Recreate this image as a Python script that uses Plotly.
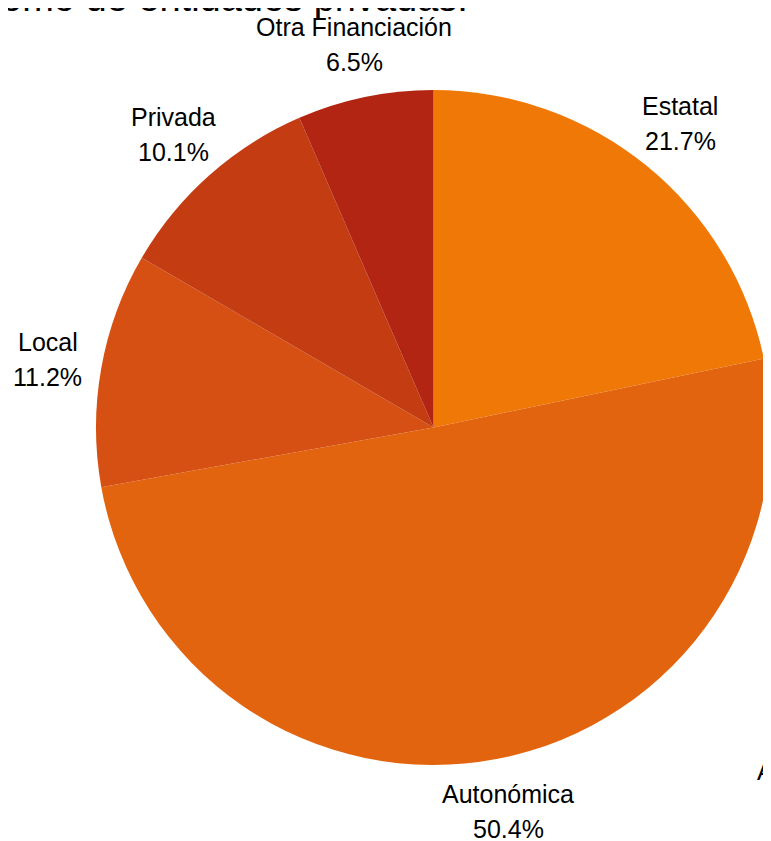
import math
import plotly.graph_objects as go

labels = ["Estatal", "Autonómica", "Local", "Privada", "Otra Financiación"]
values = [21.7, 50.4, 11.2, 10.1, 6.5]
colors = ["#F07806", "#E3640E", "#D55012", "#C43C12", "#B22513"]
title_text = "como de entidades privadas."
side_text = "A"

FONT = "Liberation Sans, Arial, sans-serif"

fig = go.Figure(go.Pie(
    labels=labels,
    values=values,
    sort=False,
    direction="clockwise",
    rotation=0,
    marker=dict(colors=colors, line=dict(width=0)),
    textinfo="none",
    showlegend=False,
    hovertemplate="%{label}: %{value:.1f}%<extra></extra>",
    domain=dict(x=[0, 1], y=[0, 1]),
    automargin=False,
))

# Labels centred on a circle outside the pie, along each slice's mid-angle
total = sum(values)
label_r = 0.58  # in paper units (pie radius = 0.5)
half_gap = 17.5  # px between the centre of the name line and the percent line
cum = 0.0
for lab, v in zip(labels, values):
    mid = (cum + v / 2) / total * 2 * math.pi
    cum += v
    cx = 0.5 + label_r * math.sin(mid)
    cy = 0.5 + label_r * math.cos(mid)
    for txt, shift in ((lab, half_gap), (f"{v:.1f}%", -half_gap)):
        fig.add_annotation(
            text=txt,
            xref="paper", yref="paper",
            x=cx, y=cy, yshift=shift,
            xanchor="center", yanchor="middle",
            showarrow=False,
            font=dict(family=FONT, size=25, color="#000000"),
        )

fig.add_annotation(
    text=title_text, xref="paper", yref="paper",
    x=(462 - 87.5) / 676, y=1.1368, xanchor="right", yanchor="middle",
    showarrow=False,
    font=dict(family=FONT, size=38, color="#000000"),
)
fig.add_annotation(
    text=side_text, xref="paper", yref="paper",
    x=(747 - 87.5) / 676, y=-0.0096, xanchor="left", yanchor="middle",
    showarrow=False,
    font=dict(family=FONT, size=25, color="#000000"),
)

fig.update_layout(
    width=771, height=841,
    margin=dict(l=87.5, r=7.5, t=81.5, b=83.5),
    paper_bgcolor="#FFFFFF",
    plot_bgcolor="#FFFFFF",
    font=dict(family=FONT, size=25, color="#000000"),
)

fig.write_html("out.html")
